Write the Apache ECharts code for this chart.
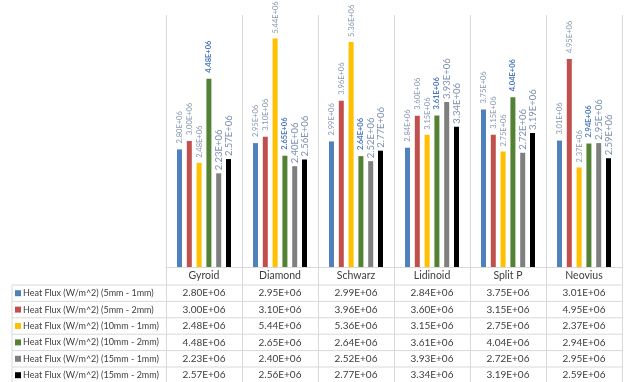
<!DOCTYPE html>
<html>
<head>
<meta charset="utf-8">
<script src="https://cdn.jsdelivr.net/npm/echarts@6/dist/echarts.min.js"></script>
<style>
  html, body { margin: 0; padding: 0; background: #fff; }
  #chart { width: 624px; height: 382px; }
</style>
</head>
<body>
<div id="chart"></div>
<script>
// Structures compared along the x axis
const categories = ['Gyroid', 'Diamond', 'Schwarz', 'Lidinoid', 'Split P', 'Neovius'];

// Heat flux per structure, one array per (size - thickness) case
const seriesNames = [
  'Heat Flux (W/m^2) (5mm - 1mm)',
  'Heat Flux (W/m^2) (5mm - 2mm)',
  'Heat Flux (W/m^2) (10mm - 1mm)',
  'Heat Flux (W/m^2) (10mm - 2mm)',
  'Heat Flux (W/m^2) (15mm - 1mm)',
  'Heat Flux (W/m^2) (15mm - 2mm)'
];
const flux5mm1mm  = [2.80e6, 2.95e6, 2.99e6, 2.84e6, 3.75e6, 3.01e6];
const flux5mm2mm  = [3.00e6, 3.10e6, 3.96e6, 3.60e6, 3.15e6, 4.95e6];
const flux10mm1mm = [2.48e6, 5.44e6, 5.36e6, 3.15e6, 2.75e6, 2.37e6];
const flux10mm2mm = [4.48e6, 2.65e6, 2.64e6, 3.61e6, 4.04e6, 2.94e6];
const flux15mm1mm = [2.23e6, 2.40e6, 2.52e6, 3.93e6, 2.72e6, 2.95e6];
const flux15mm2mm = [2.57e6, 2.56e6, 2.77e6, 3.34e6, 3.19e6, 2.59e6];
const seriesValues = [flux5mm1mm, flux5mm2mm, flux10mm1mm, flux10mm2mm, flux15mm1mm, flux15mm2mm];

const colors = ['#4f81bd', '#c0504d', '#ffc000', '#548235', '#7f7f7f', '#000000'];

// Layout of the plot and the data table beneath it
const FONT = 'Lato';
const GRID_LEFT = 166, GRID_RIGHT = 2, GRID_TOP = 15, AXIS_Y = 267;
const HEADER_H = 18, ROW_H = 16.4, TABLE_LEFT = 12;
const LINE_COLOR = '#d9d9d9';

// Excel-style scientific notation, e.g. 2.80E+06
function sci(v) {
  const exp = Math.floor(Math.log10(Math.abs(v)));
  const mant = (v / Math.pow(10, exp)).toFixed(2);
  const e = String(Math.abs(exp)).padStart(2, '0');
  return mant + 'E' + (exp < 0 ? '-' : '+') + e;
}

// Data label look per series
const labelStyles = [
  { fontSize: 7.5, color: '#8596b0', fontWeight: 'normal', distance: 6 },
  { fontSize: 7.5, color: '#8596b0', fontWeight: 'normal', distance: 6 },
  { fontSize: 7.5, color: '#8596b0', fontWeight: 'normal', distance: 5 },
  { fontSize: 7.5, color: '#4a78c0', fontWeight: 'bold', distance: 6 },
  { fontSize: 9.5, color: '#7d91b0', fontWeight: 'normal', distance: 3 },
  { fontSize: 9.5, color: '#7d91b0', fontWeight: 'normal', distance: 3 }
];

const series = seriesNames.map((name, i) => ({
  name: name,
  type: 'bar',
  data: seriesValues[i],
  barWidth: 5,
  barGap: '96%',
  itemStyle: { color: colors[i] },
  label: {
    show: true,
    position: 'top',
    rotate: 90,
    align: 'left',
    verticalAlign: 'middle',
    distance: labelStyles[i].distance,
    fontFamily: FONT,
    fontSize: labelStyles[i].fontSize,
    fontWeight: labelStyles[i].fontWeight,
    color: labelStyles[i].color,
    formatter: p => sci(p.value)
  }
}));

// Table column text: header name followed by one value per series
const rich = {
  h: { height: HEADER_H, fontFamily: FONT, fontSize: 10.5, color: '#404040', align: 'center' },
  v: { height: ROW_H, fontFamily: FONT, fontSize: 10, color: '#404040', align: 'center' }
};

// Horizontal rules of the table
const rowLines = [];
for (let r = 0; r < seriesNames.length; r++) {
  const y = AXIS_Y + HEADER_H + r * ROW_H;
  rowLines.push({
    type: 'line',
    shape: { x1: TABLE_LEFT, y1: y, x2: 624 - GRID_RIGHT, y2: y },
    style: { stroke: LINE_COLOR, lineWidth: 1 },
    silent: true
  });
}
rowLines.push({
  type: 'line',
  shape: { x1: TABLE_LEFT, y1: AXIS_Y + HEADER_H, x2: TABLE_LEFT, y2: 382 },
  style: { stroke: LINE_COLOR, lineWidth: 1 },
  silent: true
});

const chart = echarts.init(document.getElementById('chart'), null, { renderer: 'canvas' });
chart.setOption({
  animation: false,
  color: colors,
  textStyle: { fontFamily: FONT },
  grid: { left: GRID_LEFT, right: GRID_RIGHT, top: GRID_TOP, bottom: 382 - AXIS_Y, containLabel: false },
  legend: {
    orient: 'vertical',
    left: TABLE_LEFT + 3,
    top: AXIS_Y + HEADER_H,
    height: 200,
    padding: 0,
    itemGap: 0,
    itemWidth: 6,
    itemHeight: 6,
    icon: 'rect',
    selectedMode: false,
    data: seriesNames,
    textStyle: { fontFamily: FONT, fontSize: 9, color: '#404040', lineHeight: ROW_H, height: ROW_H, padding: [0, 0, 0, -3] }
  },
  xAxis: {
    type: 'category',
    data: categories,
    axisLine: { lineStyle: { color: LINE_COLOR } },
    axisTick: { show: true, interval: 0, length: 382 - AXIS_Y, lineStyle: { color: LINE_COLOR } },
    splitLine: { show: true, interval: 0, lineStyle: { color: LINE_COLOR } },
    axisLabel: {
      interval: 0,
      margin: 0,
      formatter: (name, idx) => {
        const lines = ['{h|' + name + '}'];
        seriesValues.forEach(vals => lines.push('{v|' + sci(vals[idx]) + '}'));
        return lines.join('\n');
      },
      rich: rich
    }
  },
  yAxis: {
    type: 'value',
    min: 0,
    max: 6e6,
    show: false,
    splitLine: { show: false }
  },
  graphic: rowLines,
  series: series
});
</script>
</body>
</html>
